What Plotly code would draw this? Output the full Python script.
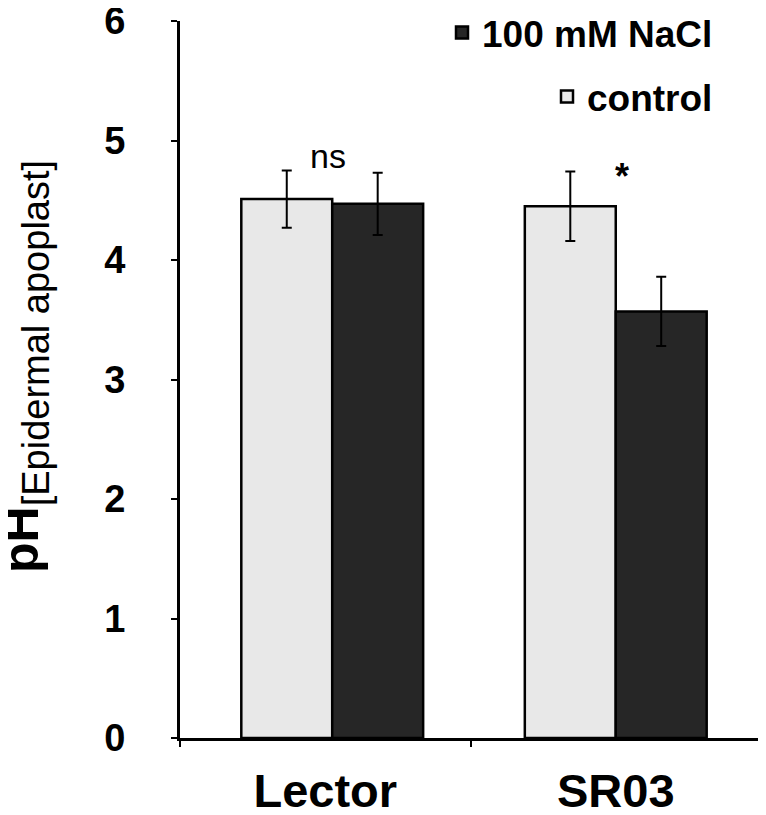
import plotly.graph_objects as go

categories = ["Lector", "SR03"]
control_vals = [4.51, 4.45]
control_err = [0.24, 0.29]
nacl_vals = [4.47, 3.57]
nacl_err = [0.26, 0.29]
y_ticks = [0, 1, 2, 3, 4, 5, 6]
sig_labels = ["ns", "*"]

FONT = "Liberation Sans, Arial, sans-serif"

# page body has an 8px margin; figure is sized to fit the 766x815 window
OFF = 8
W, H = 758, 807
L, R, T, B = 172, 5, 13, 77
plot_w = W - L - R
plot_h = H - T - B


def px_(screen_x):
    return (screen_x - OFF - L) / plot_w


def py(screen_y):
    return (H - B - (screen_y - OFF)) / plot_h


BW = 0.313  # bar width in category units
SH = 0.024  # small shift of the first group, as in the original

fig = go.Figure()
fig.add_trace(go.Bar(
    x=categories, y=control_vals, name="control",
    width=BW, offset=[-BW + SH, -BW],
    marker=dict(color="#e8e8e8", line=dict(color="black", width=2.5)),
    error_y=dict(type="data", array=control_err, visible=True,
                 color="black", thickness=2, width=5),
    legend="legend2", showlegend=True,
))
fig.add_trace(go.Bar(
    x=categories, y=nacl_vals, name="100 mM NaCl",
    width=BW, offset=[SH, 0],
    marker=dict(color="#262626", line=dict(color="black", width=2.5)),
    error_y=dict(type="data", array=nacl_err, visible=True,
                 color="black", thickness=2, width=5),
    legend="legend", showlegend=True,
))

# significance labels
fig.add_annotation(x=categories[0], y=4.87, text=sig_labels[0], showarrow=False,
                   xshift=3, font=dict(family=FONT, size=34, color="black"))
fig.add_annotation(x=categories[1], y=4.70, text="<b>" + sig_labels[1] + "</b>", showarrow=False,
                   xshift=6, font=dict(family=FONT, size=36, color="black"))

# y-axis title
fig.add_annotation(
    xref="paper", yref="paper", x=px_(25), y=py(367),
    xanchor="center", yanchor="middle", textangle=-90, showarrow=False,
    text="<b>pH</b><sub><span style='font-size:38px'>[Epidermal apoplast]</span></sub>",
    font=dict(family=FONT, size=50, color="black"),
)

legend_x = px_(718)

fig.update_layout(
    width=W, height=H,
    margin=dict(l=L, r=R, t=T, b=B, autoexpand=False),
    paper_bgcolor="white", plot_bgcolor="white",
    barmode="overlay",
    showlegend=True,
    font=dict(family=FONT, color="black"),
    legend=dict(x=legend_x, xanchor="right", y=py(33), yanchor="middle",
                font=dict(family=FONT, size=37, color="black", weight="bold"),
                bgcolor="rgba(0,0,0,0)", borderwidth=0),
    legend2=dict(x=legend_x, xanchor="right", y=py(97), yanchor="middle",
                 font=dict(family=FONT, size=37, color="black", weight="bold"),
                 bgcolor="rgba(0,0,0,0)", borderwidth=0),
    xaxis=dict(
        type="category", range=[-0.5, 1.5], automargin=False,
        showline=True, linecolor="black", linewidth=3,
        ticks="outside", tickson="boundaries", ticklen=6, tickwidth=2, tickcolor="black",
        tickfont=dict(family=FONT, size=47, color="black", weight="bold"),
        ticklabelstandoff=10, ticklabeloverflow="allow",
        showgrid=False, zeroline=False,
    ),
    yaxis=dict(
        range=[0, 6], tickvals=y_ticks, automargin=False,
        showline=True, linecolor="black", linewidth=3,
        ticks="outside", ticklen=6, tickwidth=2, tickcolor="black",
        tickfont=dict(family=FONT, size=38, color="black", weight="bold"),
        ticklabelstandoff=38, ticklabeloverflow="allow",
        showgrid=False, zeroline=False,
    ),
)

fig.write_html("out.html")
